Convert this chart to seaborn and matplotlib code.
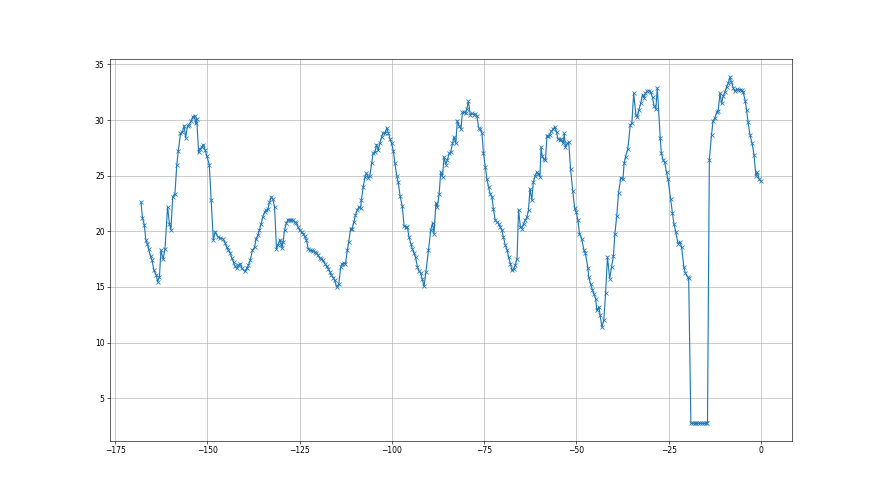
import matplotlib
matplotlib.use("Agg")
import matplotlib.pyplot as plt
import seaborn as sns
import pandas as pd

hours = [
    -168.0, -167.6, -167.1, -166.7, -166.3, -165.9, -165.4, -165.0, -164.5, -163.9,
    -163.5, -163.0, -162.6, -162.0, -161.5, -160.8, -160.3, -159.9, -159.4, -158.8,
    -158.3, -157.9, -157.3, -156.8, -156.3, -155.9, -155.4, -155.0, -154.4, -154.0,
    -153.5, -153.2, -152.9, -152.4, -152.0, -151.5, -151.1, -150.6, -150.2, -149.5,
    -149.0, -148.4, -147.9, -147.2, -146.6, -145.8, -145.2, -144.8,
    -144.3, -143.8, -143.4, -142.9, -142.5, -142.0, -141.6, -141.1, -140.7, -139.9,
    -139.3, -138.9, -138.4, -137.8, -137.2, -136.8, -136.3, -135.9, -135.4, -135.0,
    -134.5, -134.1, -133.6, -133.2, -132.7, -132.3, -131.8, -131.3, -130.9, -130.4,
    -130.0, -129.8, -129.5, -129.1, -128.6, -128.2, -127.7, -127.3, -126.8, -126.4,
    -125.9, -125.5, -125.0, -124.5, -124.1, -123.6, -123.2, -122.7, -122.3, -121.8,
    -121.4, -120.9, -120.5, -120.0, -119.6, -119.1, -118.7, -118.2, -117.7, -117.3,
    -116.8, -116.4, -115.9, -115.5, -115.0,
    -114.4, -113.9, -113.5, -113.0, -112.6, -112.1, -111.7, -111.2, -110.8, -110.3,
    -109.9, -109.4, -109.0, -108.5, -108.3, -107.8, -107.3, -106.9, -106.4, -106.0,
    -105.5, -105.1, -104.6, -104.2, -103.7, -103.3, -102.8, -102.4, -101.9, -101.4,
    -101.0, -100.5, -100.1, -99.6, -99.2, -98.7, -98.3, -97.8, -97.2, -96.7,
    -96.3, -95.8, -95.4, -94.9, -94.5, -94.0, -93.6, -93.1, -92.7, -92.2,
    -91.8, -91.3, -90.8, -90.1, -89.5, -89.0, -88.6, -88.1, -87.7, -87.2,
    -86.8, -86.3, -85.9, -85.4, -85.0, -84.5, -84.1, -83.6, -83.2, -82.7,
    -82.3, -81.8, -81.3, -80.9, -80.4, -80.0, -79.7, -79.3, -78.8, -78.3,
    -77.9, -77.4, -77.0, -76.5, -76.1, -75.6, -75.2, -74.7, -74.3, -73.8,
    -73.4, -72.9, -72.5, -72.0, -71.6, -71.1, -70.7, -70.2, -69.8, -69.3,
    -68.8, -68.4, -67.9, -67.5, -67.0, -66.6, -66.1, -65.7, -65.2, -64.8,
    -64.3, -63.9, -63.4, -63.0, -62.6, -62.1, -61.7, -61.2, -60.8, -60.3,
    -59.9, -59.6, -59.3, -58.9, -58.4, -58.0, -57.7, -57.3, -56.8, -56.3,
    -55.9, -55.4, -55.0, -54.5, -54.1, -53.6, -53.3, -53.0, -52.5, -52.1,
    -51.6, -51.0, -50.5, -50.1, -49.6, -49.2, -48.6, -48.0, -47.6, -46.9,
    -46.7, -46.2, -45.7, -45.3, -44.8, -44.5, -43.9, -43.6, -43.1, -42.6,
    -42.1, -41.6, -41.0, -40.5, -40.0, -39.6, -39.1, -38.6, -38.0, -37.4,
    -37.1, -36.7, -36.1, -35.4, -35.0, -34.5, -33.9, -33.5, -33.1, -32.6,
    -32.1, -31.7, -31.3, -30.8, -30.4, -29.9, -29.4, -29.0, -28.5, -28.1,
    -27.3, -27.0, -26.5, -26.1, -25.6, -25.2, -24.5, -24.0, -23.6, -23.1,
    -22.5, -22.0, -21.5, -20.9, -20.5, -19.9, -19.6,
    -19.0, -18.5, -18.0, -17.5, -17.0, -16.5, -16.0, -15.5, -15.0, -14.5,
    -14.0, -13.4, -13.0, -12.5, -12.0, -11.6, -11.1, -10.7, -10.2, -9.8,
    -9.3, -8.9, -8.4, -8.0, -7.5, -7.1, -6.6, -6.2, -5.7, -5.2,
    -4.8, -4.3, -3.9, -3.5, -3.0, -2.4, -1.9, -1.4, -1.0, -0.5, 0.0,
]

temperature = [
    22.6, 21.2, 20.6, 19.25, 18.9, 18.4, 17.75, 17.4, 16.5, 16.1,
    15.45, 15.9, 18.3, 17.5, 18.4, 22.2, 20.7, 20.15, 23.1, 23.4,
    26.0, 27.2, 28.8, 28.9, 29.5, 28.4, 29.5, 29.6, 29.9, 30.3,
    30.4, 29.7, 30.1, 27.1, 27.4, 27.6, 27.8, 27.3, 26.8, 26.0,
    22.85, 19.2, 19.95, 19.5, 19.4, 19.35, 18.95, 18.6,
    18.3, 18.05, 17.6, 17.2, 16.85, 16.7, 16.95, 17.1, 16.7, 16.4,
    16.7, 16.95, 17.4, 18.3, 18.6, 19.35, 19.65, 20.15, 20.7, 21.3,
    21.75, 21.9, 22.0, 22.6, 23.1, 22.9, 22.2, 18.45, 18.75, 19.25,
    18.9, 18.5, 19.0, 20.15, 20.75, 21.05, 21.0, 21.05, 21.0, 20.85,
    20.75, 20.4, 20.1, 19.95, 19.8, 19.55, 19.25, 18.45, 18.3, 18.3,
    18.2, 18.15, 18.05, 17.85, 17.6, 17.5, 17.4, 17.1, 16.85, 16.65,
    16.35, 16.05, 15.85, 15.6, 15.0,
    15.25, 16.8, 17.1, 17.15, 17.05, 18.3, 19.05, 20.25, 20.25, 20.85,
    21.45, 21.9, 22.2, 22.1, 22.8, 23.95, 24.9, 25.25, 24.8, 25.0,
    26.1, 27.05, 27.1, 27.8, 27.3, 27.9, 28.5, 28.85, 28.8, 29.3,
    28.85, 28.3, 27.9, 27.2, 26.1, 25.0, 24.4, 23.2, 22.25, 20.45,
    20.4, 20.35, 19.5, 18.9, 18.45, 18.05, 17.65, 16.8, 16.45, 16.25,
    15.7, 15.05, 16.35, 18.3, 20.1, 20.75, 19.8, 22.55, 22.2, 23.4,
    25.3, 24.9, 26.7, 26.0, 26.4, 27.0, 27.1, 27.9, 28.5, 27.9,
    29.95, 29.5, 29.2, 30.7, 30.7, 30.6, 31.0, 31.7, 30.5, 30.6,
    30.5, 30.55, 30.4, 29.3, 29.2, 28.8, 27.0, 25.8, 24.75, 23.95,
    23.4, 23.1, 22.0, 21.0, 20.85, 20.7, 20.4, 20.1, 19.5, 18.75,
    18.35, 17.7, 17.1, 16.5, 16.65, 16.95, 17.55, 21.95, 20.4, 20.25,
    20.7, 21.0, 21.3, 21.9, 23.85, 22.8, 24.4, 25.0, 25.3, 25.2,
    24.9, 27.55, 26.8, 26.5, 26.4, 28.6, 28.55, 28.7, 29.0, 29.2,
    29.4, 28.9, 28.3, 28.2, 28.3, 27.9, 28.8, 27.55, 27.9, 28.0,
    25.6, 23.6, 22.1, 21.75, 21.0, 19.8, 19.35, 18.35, 18.05, 16.7,
    15.9, 15.3, 14.75, 14.4, 13.95, 12.9, 13.2, 12.45, 11.4, 12.0,
    14.5, 17.7, 15.75, 16.8, 17.75, 19.75, 21.35, 23.45, 24.8, 24.7,
    26.1, 26.7, 27.4, 29.6, 29.7, 32.4, 30.5, 30.3, 30.9, 31.5,
    32.3, 32.0, 32.4, 32.6, 32.65, 32.5, 32.05, 31.3, 31.0, 32.9,
    28.4, 27.0, 26.4, 26.2, 25.3, 24.7, 22.9, 21.65, 20.7, 19.95,
    18.9, 19.05, 18.55, 16.75, 16.25, 15.9, 15.85,
    2.75, 2.75, 2.75, 2.75, 2.75, 2.75, 2.75, 2.75, 2.75, 2.75,
    26.45, 28.7, 29.9, 30.2, 30.7, 30.85, 32.45, 31.5, 32.2, 32.5,
    33.0, 33.3, 33.9, 33.4, 32.9, 32.6, 32.8, 32.7, 32.75, 32.7,
    32.5, 31.75, 30.9, 29.8, 28.7, 27.9, 26.9, 25.0, 25.3, 24.7, 24.5,
]

df = pd.DataFrame({"hours": hours, "temperature": temperature})

fig, ax = plt.subplots(figsize=(16, 9), dpi=55)
sns.lineplot(data=df, x="hours", y="temperature", ax=ax, sort=False,
             estimator=None, marker="x", color="C0", linewidth=1.5,
             markeredgecolor="C0", markeredgewidth=1.0, markersize=6)
ax.set_xlabel("")
ax.set_ylabel("")
ax.grid(True)
ax.set_axisbelow(True)
fig.savefig("out.png", dpi=55)
